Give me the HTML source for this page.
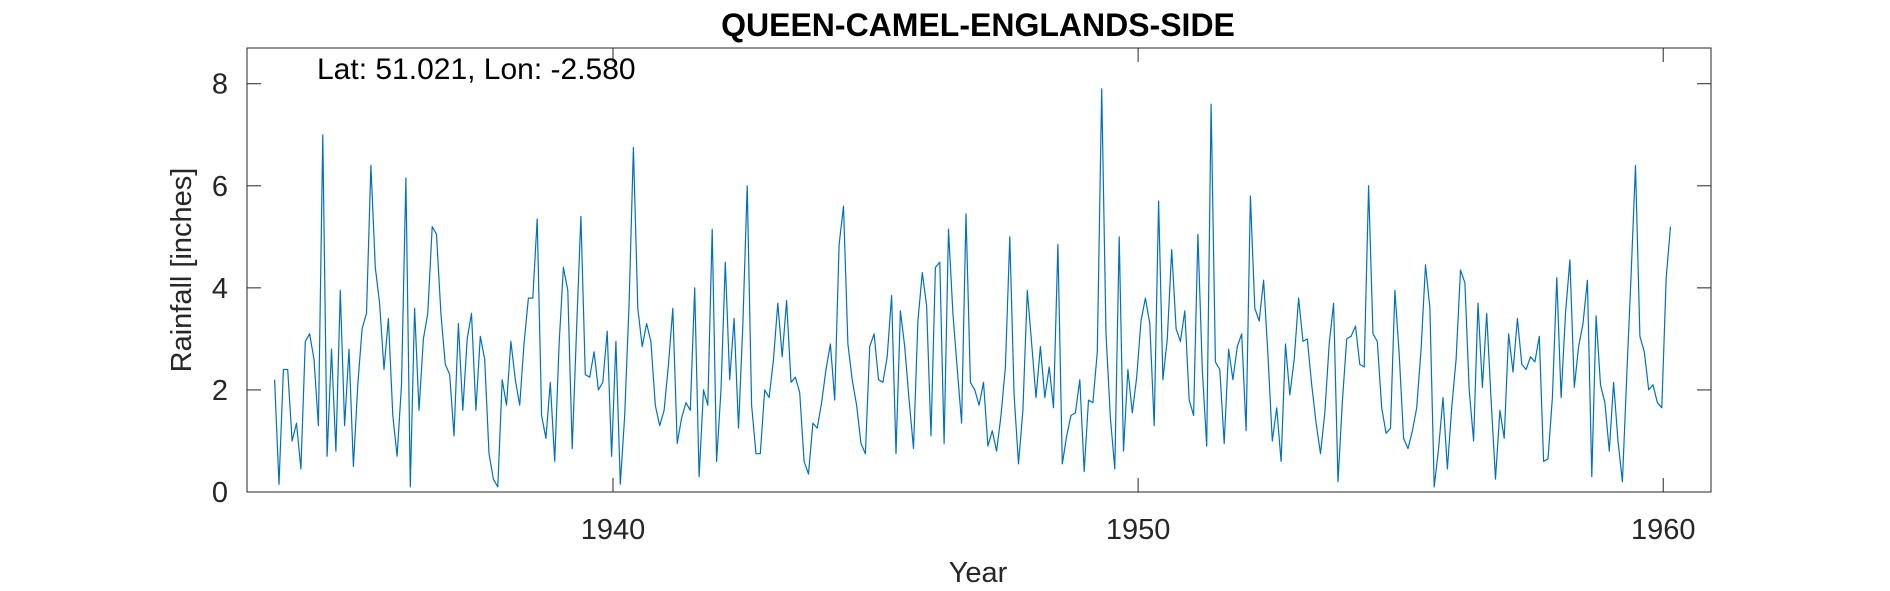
<!DOCTYPE html>
<html><head><meta charset="utf-8"><style>
body{margin:0;background:#fff;}
svg{display:block;font-family:"Liberation Sans",Arial,sans-serif;}
</style></head><body>
<svg id="chart" width="1890" height="591" viewBox="0 0 1890 591" xmlns="http://www.w3.org/2000/svg">
<rect width="1890" height="591" fill="#fff"/>
<text x="978" y="36" text-anchor="middle" font-size="32" font-weight="bold" fill="#000">QUEEN-CAMEL-ENGLANDS-SIDE</text>
<g id="axes"></g>
<polyline id="series" fill="none" stroke="#0072BD" stroke-width="1.2" stroke-linejoin="round"/>
<text x="317" y="79" font-size="30" fill="#000">Lat: 51.021, Lon: -2.580</text>
<text x="0" y="0" transform="translate(191,270) rotate(-90)" text-anchor="middle" font-size="29" fill="#262626">Rainfall [inches]</text>
<text x="978" y="582" text-anchor="middle" font-size="29" fill="#262626">Year</text>
</svg>
<script>
const startYear = 1933.556;
const rainfall = [2.2,0.15,2.4,2.4,1.0,1.35,0.45,2.95,3.1,2.6,1.3,7.0,0.7,2.8,0.8,3.95,1.3,2.8,0.5,2.1,3.2,3.5,6.4,4.4,3.7,2.4,3.4,1.5,0.7,2.1,6.15,0.1,3.6,1.6,3.0,3.5,5.2,5.05,3.5,2.5,2.3,1.1,3.3,1.6,3.0,3.5,1.6,3.05,2.6,0.75,0.25,0.1,2.2,1.7,2.95,2.2,1.7,2.9,3.8,3.8,5.35,1.5,1.05,2.15,0.6,2.9,4.4,3.95,0.85,3.2,5.4,2.3,2.25,2.75,2.0,2.15,3.15,0.7,2.95,0.15,1.5,3.7,6.75,3.6,2.85,3.3,2.95,1.7,1.3,1.6,2.5,3.6,0.95,1.45,1.75,1.6,4.0,0.3,2.0,1.7,5.15,0.6,2.0,4.5,2.2,3.4,1.25,3.25,6.0,1.7,0.75,0.75,2.0,1.85,2.6,3.7,2.65,3.75,2.15,2.25,1.95,0.6,0.35,1.35,1.25,1.75,2.4,2.9,1.8,4.85,5.6,2.9,2.2,1.7,0.95,0.75,2.85,3.1,2.2,2.15,2.65,3.85,0.75,3.55,2.85,1.8,0.85,3.35,4.3,3.65,1.1,4.4,4.5,0.95,5.15,3.5,2.4,1.35,5.45,2.15,2.0,1.7,2.15,0.9,1.2,0.8,1.5,2.45,5.0,1.9,0.55,1.6,3.95,2.9,1.85,2.85,1.85,2.45,1.65,4.85,0.55,1.1,1.5,1.55,2.2,0.4,1.8,1.75,2.75,7.9,3.1,1.45,0.45,5.0,0.8,2.4,1.55,2.25,3.35,3.8,3.3,1.3,5.7,2.2,3.0,4.75,3.2,2.95,3.55,1.8,1.5,5.05,2.4,0.9,7.6,2.55,2.4,0.95,2.8,2.2,2.85,3.1,1.2,5.8,3.6,3.35,4.15,2.7,1.0,1.65,0.6,2.9,1.9,2.6,3.8,2.95,3.0,2.1,1.35,0.75,1.55,2.9,3.7,0.2,1.75,3.0,3.05,3.25,2.5,2.45,6.0,3.1,2.95,1.65,1.15,1.25,3.95,2.7,1.05,0.85,1.2,1.65,2.8,4.45,3.6,0.1,0.85,1.85,0.45,1.65,2.6,4.35,4.1,2.0,1.0,3.7,2.05,3.5,1.8,0.25,1.6,1.05,3.1,2.35,3.4,2.5,2.4,2.65,2.55,3.05,0.6,0.65,1.85,4.2,1.85,3.5,4.55,2.05,2.85,3.3,4.15,0.3,3.45,2.1,1.75,0.8,2.15,1.0,0.2,2.3,4.25,6.4,3.05,2.75,2.0,2.1,1.75,1.65,4.2,5.2];
const xTicks = [1940,1950,1960];
const yTicks = [0,2,4,6,8];

const L=247,R=1711,T=48,B=492;
const xMin=1933.03,xMax=1960.91,yMin=0,yMax=8.7;
function xs(v){return L+(v-xMin)/(xMax-xMin)*(R-L);}
function ys(v){return B-(v-yMin)/(yMax-yMin)*(B-T);}
const NS="http://www.w3.org/2000/svg";
const ax=document.getElementById('axes');
function mk(tag,attrs,parent){const e=document.createElementNS(NS,tag);for(const k in attrs)e.setAttribute(k,attrs[k]);(parent||ax).appendChild(e);return e;}
const box=mk('rect',{x:L,y:T,width:R-L,height:B-T,fill:'none',stroke:'#262626','stroke-width':1});


yTicks.forEach(v=>{
  const y=ys(v);
  mk('line',{x1:L,x2:L+14,y1:y,y2:y,stroke:'#262626'});
  mk('line',{x1:R-14,x2:R,y1:y,y2:y,stroke:'#262626'});
  const t=mk('text',{x:L-19,y:y+10,'text-anchor':'end','font-size':29,fill:'#262626'});
  t.textContent=v;
  
  
});
xTicks.forEach(v=>{
  const x=xs(v);
  mk('line',{x1:x,x2:x,y1:B,y2:B-14,stroke:'#262626'});
  mk('line',{x1:x,x2:x,y1:T,y2:T+14,stroke:'#262626'});
  const t=mk('text',{x:x,y:539,'text-anchor':'middle','font-size':29,fill:'#262626'});
  t.textContent=v;
  
  
});
const pts=rainfall.map((v,i)=>xs(startYear+i/12).toFixed(1)+','+ys(v).toFixed(1)).join(' ');
document.getElementById('series').setAttribute('points',pts);
</script>
</body></html>
